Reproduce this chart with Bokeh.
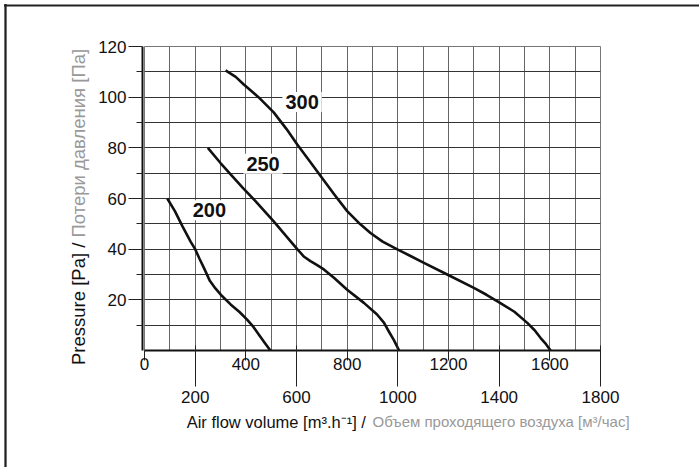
import math
from bokeh.plotting import figure
from bokeh.models import LinearAxis, FixedTicker, Label, Range1d, Grid
from bokeh.embed import file_html
from bokeh.resources import INLINE

# ---- data ----
x_ticks_row1 = [0, 400, 800, 1200, 1600]
x_ticks_row2 = [200, 600, 1000, 1400, 1800]
x_grid_ticks = list(range(0, 1900, 100))
y_ticks = [20, 40, 60, 80, 100, 120]
y_minor_ticks = [10, 30, 50, 70, 90, 110]
y_grid_ticks = list(range(0, 130, 10))

x200 = [90, 120, 150, 182, 200, 218, 235, 258, 280, 307, 340, 375, 405, 430, 451, 475, 497]
y200 = [60, 55, 49, 43, 40, 36, 32.5, 27.5, 24.5, 21.4, 18.2, 15.2, 12.2, 9.3, 6.3, 3, 0]

x250 = [250, 300, 340, 390, 438, 510, 576, 603, 630, 655, 680, 708, 750, 800, 866, 918, 945, 964, 985, 1005]
y250 = [80, 74, 69.5, 64, 59, 51, 43.2, 40, 37, 35.3, 33.8, 32, 28.5, 24, 18.8, 14.2, 11, 7.6, 4, 0]

x300 = [320, 360, 392, 450, 510, 560, 603, 650, 701, 750, 800, 850, 892, 940, 1000, 1050, 1103,
        1195, 1300, 1350, 1400, 1460, 1511, 1540, 1563, 1585, 1603]
y300 = [110.6, 108, 105, 100, 94, 87.5, 81.3, 75, 68.1, 61.5, 55, 50, 46.4, 43, 39.8, 37.3, 34.6,
        30, 24.7, 22, 19, 15.3, 10.9, 8, 5, 2.5, 0]

curve_names = ["200", "250", "300"]
curve_label_x = [256, 468, 622]
curve_label_y = [55.4, 73.7, 98.1]

x_title_en = "Air flow volume [m\u00b3.h\u207b\u00b9] / "
x_title_ru = "\u041e\u0431\u044a\u0435\u043c \u043f\u0440\u043e\u0445\u043e\u0434\u044f\u0449\u0435\u0433\u043e \u0432\u043e\u0437\u0434\u0443\u0445\u0430 [\u043c\u00b3/\u0447\u0430\u0441]"
y_title_en = "Pressure [Pa] / "
y_title_ru = "\u041f\u043e\u0442\u0435\u0440\u0438 \u0434\u0430\u0432\u043b\u0435\u043d\u0438\u044f [\u041f\u0430]"

FONT = "Liberation Sans"

p = figure(width=695, height=463, x_range=Range1d(0, 1800), y_range=Range1d(0, 120),
           x_axis_type=None, y_axis_type=None,
           output_backend="svg", toolbar_location=None,
           min_border_left=140, min_border_right=99, min_border_top=42, min_border_bottom=117)
p.styles = {"margin-left": "4px", "margin-top": "4px"}
p.background_fill_color = "white"
p.border_fill_color = "white"
p.outline_line_color = "#777777"
p.outline_line_width = 1

# outer frame of the picture (left and top edges), drawn as filled label boxes
try:
    edge_left = Label(x=1, y=231.5, x_units="canvas", y_units="canvas", text=" ",
                      text_font=FONT, text_font_size="1px", text_align="center",
                      text_baseline="middle", background_fill_color="#222222",
                      padding=dict(x=1, y=232))
    edge_top = Label(x=347.5, y=1, x_units="canvas", y_units="canvas", text=" ",
                     text_font=FONT, text_font_size="2px", text_align="center",
                     text_baseline="middle", background_fill_color="#222222",
                     padding=dict(x=348, y=0))
    p.add_layout(edge_left, "left")
    p.add_layout(edge_top, "above")
except Exception:
    pass

# grids
xg = Grid(dimension=0, ticker=FixedTicker(ticks=x_grid_ticks), grid_line_color="#666666", grid_line_width=1)
yg = Grid(dimension=1, ticker=FixedTicker(ticks=y_grid_ticks), grid_line_color="#333333", grid_line_width=1)
p.add_layout(xg, "center")
p.add_layout(yg, "center")

def style_axis(ax):
    ax.major_label_text_font = FONT
    ax.major_label_text_font_size = "17px"
    ax.major_label_text_color = "#111111"
    ax.major_tick_line_color = "#222222"
    ax.minor_tick_line_color = "#222222"
    ax.major_tick_in = 0
    ax.minor_tick_in = 0

ax_a = LinearAxis(ticker=FixedTicker(ticks=x_ticks_row1))
style_axis(ax_a)
ax_a.axis_line_color = "#111111"
ax_a.axis_line_width = 2
ax_a.major_tick_out = 10
ax_a.minor_tick_out = 0
ax_a.major_label_standoff = -3
p.add_layout(ax_a, "below")

ax_b = LinearAxis(ticker=FixedTicker(ticks=x_ticks_row2))
style_axis(ax_b)
ax_b.axis_line_color = None
ax_b.major_tick_in = 27
ax_b.major_tick_out = 14
ax_b.minor_tick_out = 0
ax_b.major_label_standoff = 4
p.add_layout(ax_b, "below")

ax_y = LinearAxis(ticker=FixedTicker(ticks=y_ticks, minor_ticks=y_minor_ticks))
style_axis(ax_y)
ax_y.axis_line_color = "#111111"
ax_y.axis_line_width = 2
ax_y.major_tick_out = 14
ax_y.minor_tick_out = 6
ax_y.major_label_standoff = 2
p.add_layout(ax_y, "left")

for xs, ys in [(x200, y200), (x250, y250), (x300, y300)]:
    p.line(xs, ys, line_color="#111111", line_width=2.6, line_join="round")

for name, lx, ly in zip(curve_names, curve_label_x, curve_label_y):
    p.add_layout(Label(x=lx, y=ly, text=name, text_font=FONT, text_font_style="bold",
                       text_font_size="20px", text_color="#111111", text_align="center",
                       text_baseline="middle", background_fill_color="white", padding=3))

# axis titles (two colours each), placed in canvas coordinates in the side panels
p.add_layout(Label(x=366, y=417, x_units="canvas", y_units="canvas", text=x_title_en,
                   text_font=FONT, text_font_size="16.5px", text_color="#111111",
                   text_align="right", text_baseline="middle"), "below")
p.add_layout(Label(x=368, y=417, x_units="canvas", y_units="canvas", text=x_title_ru,
                   text_font=FONT, text_font_size="15px", text_color="#999999",
                   text_align="left", text_baseline="middle"), "below")
p.add_layout(Label(x=74, y=233, x_units="canvas", y_units="canvas", text=y_title_en,
                   angle=math.pi / 2, text_font=FONT, text_font_size="18.5px", text_color="#111111",
                   text_align="right", text_baseline="middle"), "left")
p.add_layout(Label(x=74, y=233, x_units="canvas", y_units="canvas", text=y_title_ru,
                   angle=math.pi / 2, text_font=FONT, text_font_size="18.5px", text_color="#999999",
                   text_align="left", text_baseline="middle"), "left")

open("out.html", "w").write(file_html(p, INLINE))
